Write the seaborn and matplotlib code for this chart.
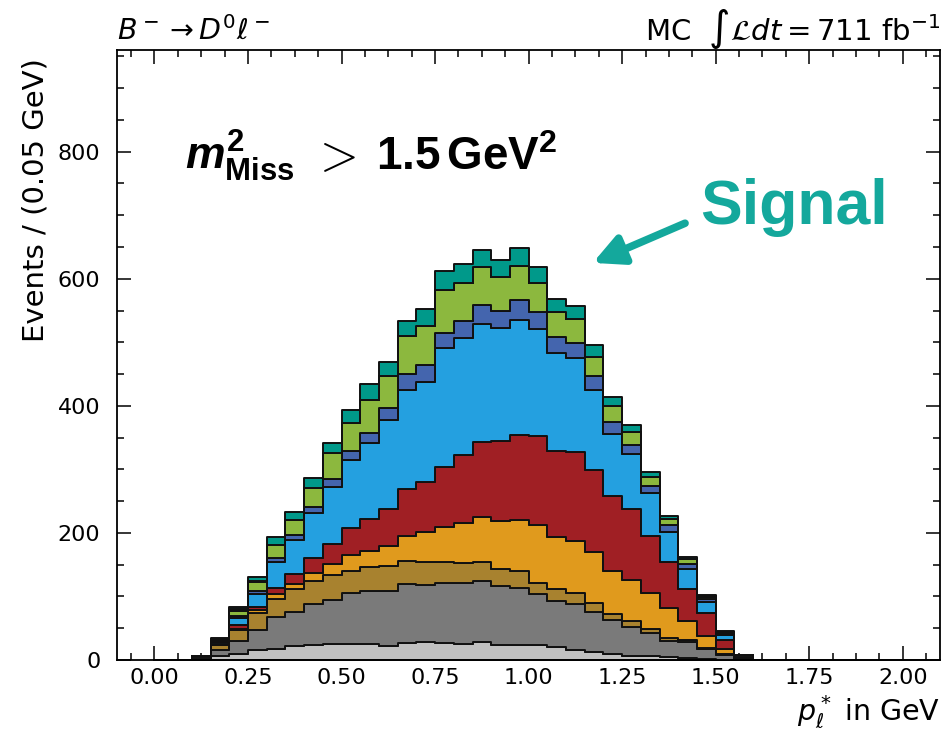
import numpy as np
import pandas as pd
import matplotlib
matplotlib.use("Agg")
import matplotlib.pyplot as plt
import seaborn as sns
from matplotlib.ticker import MultipleLocator, AutoMinorLocator

# ---- data (events per 0.05 GeV bin) ----
bin_low = [0.10, 0.15, 0.20, 0.25, 0.30, 0.35, 0.40, 0.45, 0.50, 0.55,
           0.60, 0.65, 0.70, 0.75, 0.80, 0.85, 0.90, 0.95, 1.00, 1.05,
           1.10, 1.15, 1.20, 1.25, 1.30, 1.35, 1.40, 1.45, 1.50, 1.55]
bin_width = 0.05
hist_edges = [round(0.05 * k, 2) for k in range(0, 43)]

lgray = [0, 6, 10, 15, 18, 22, 23, 25, 26, 25, 22, 27, 29, 27, 26, 28, 24, 23, 23, 21,
         16, 12, 10, 7, 6, 5, 3, 2, 0.5, 0]
gray = [0, 9.4, 19.5, 32.6, 50, 52.8, 64.4, 69.2, 79, 83.7, 86.7, 92.4, 89.8, 94, 95.1,
        95.6, 92.4, 89.8, 80.8, 72.3, 72.7, 63.9, 52.3, 45.3, 35.9, 25, 25, 14.7, 6.9, 0]
gold = [0, 7.6, 18.5, 26.4, 28.6, 37, 37, 39.1, 35.4, 37, 38.6, 35.9, 35.4, 32.7, 31.1,
        31.2, 26.4, 26.9, 17.4, 18.5, 16.8, 14.3, 10.5, 9, 7.3, 5.3, 3.7, 2.7, 2.6, 0]
orange = [0, 0.5, 1, 4.2, 6.9, 7.9, 13.2, 17.4, 24.8, 26.4, 32.7, 39.6, 48, 55.5, 63.9,
          69.7, 76.5, 81.3, 90.8, 81.8, 82, 80.2, 67.6, 65, 56, 46.5, 29, 18.5, 7.4, 0]
red = [0, 2.5, 5.4, 4.8, 10.5, 15.8, 22.2, 31.7, 42.3, 50.2, 58.1, 75, 78.7, 93.9, 106.7,
       118.2, 125.2, 133.1, 141, 134.7, 139.3, 129.4, 117.8, 111.9, 89.8, 72.3, 51.8, 35.9, 14.8, 3]
lblue = [0, 2.5, 12.1, 21.6, 40.7, 53.9, 71.8, 89.7, 107.2, 118.8, 139.9, 155.7, 157.3,
         188.5, 183.7, 185.9, 177.4, 181.1, 167.9, 154.7, 148.9, 125.6, 97.1, 86.1, 68.6,
         47.5, 30.1, 17.9, 7.9, 0]
dblue = [0, 0.5, 2.5, 3.7, 5.3, 6.9, 8.9, 12.2, 14.3, 16.9, 18.5, 23.8, 26.4, 23.8, 26.4,
         30.1, 27.4, 31.1, 26.4, 24.8, 22.7, 21.2, 18.5, 14.2, 10.6, 10.6, 7.9, 4.2, 1.6, 0]
green = [0, 1, 8.6, 14.8, 21, 23.7, 30.1, 42.2, 43.7, 51.7, 51.2, 60.7, 60.8, 67.1, 60.7,
         59.7, 52.8, 54.4, 46.4, 39.6, 38, 30.6, 25.3, 20.1, 13.2, 9, 7.9, 3.8, 1.3, 0]
other = [6, 3, 3.2, 1, 0, 0, 0, 0, 0, 0, 0, 0, 0, 0, 0, 0, 0, 0, 0, 0,
         0, 0, 0, 0, 0, 0, 0, 0.5, 1.5, 5]
signal = [0, 1, 2.6, 6.5, 12.2, 12.2, 16.4, 15.3, 21.2, 24.8, 21.7, 23.8, 27.4, 29, 29.1,
          27.4, 28, 28, 24.9, 21.1, 20.1, 17.9, 14.3, 11.6, 9, 5.3, 4.2, 2.1, 1.9, 0]

# top of stack first
components = ["Signal", "Other", "C7", "C6", "C5", "C4", "C3", "C2", "C1", "C0"]
series = [signal, other, green, dblue, lblue, red, orange, gold, gray, lgray]
colors = ["#00998a", "#141414", "#8cb83e", "#4465ae", "#24a0e0", "#a01f24",
          "#e09a1d", "#a8822f", "#7a7a7a", "#c0c0c0"]

rows = []
for name, vals in zip(components, series):
    for lo, v in zip(bin_low, vals):
        rows.append({"x": lo + bin_width / 2, "w": v, "comp": name})
df = pd.DataFrame(rows)

sns.set_style("ticks")
plt.rcParams["font.family"] = ["DejaVu Sans"]
plt.rcParams["text.color"] = "black"
plt.rcParams["axes.labelcolor"] = "black"
plt.rcParams["axes.edgecolor"] = "black"
plt.rcParams["xtick.color"] = "black"
plt.rcParams["ytick.color"] = "black"
plt.rcParams["mathtext.fontset"] = "custom"
plt.rcParams["mathtext.rm"] = "Liberation Sans:bold"
plt.rcParams["mathtext.bf"] = "Liberation Sans:bold"
plt.rcParams["mathtext.it"] = "Liberation Sans:bold:italic"

fig = plt.figure(figsize=(9.44, 7.35), dpi=100)
ax = fig.add_axes([0.124, 0.102, 0.872, 0.830])

sns.histplot(data=df, x="x", weights="w", hue="comp", hue_order=components,
             multiple="stack", bins=hist_edges, element="step",
             palette=dict(zip(components, colors)), alpha=1.0,
             edgecolor="#111111", linewidth=1.4, legend=False, ax=ax)

ax.set_xlim(-0.1, 2.1)
ax.set_ylim(0, 960)
ax.xaxis.set_major_locator(MultipleLocator(0.25))
ax.xaxis.set_minor_locator(AutoMinorLocator(4))
ax.yaxis.set_major_locator(MultipleLocator(200))
ax.yaxis.set_minor_locator(AutoMinorLocator(4))
ax.tick_params(which="both", direction="in", top=True, right=True, labelsize=16,
               colors="black")
ax.tick_params(which="major", length=10, width=1.1)
ax.tick_params(which="minor", length=5, width=1.1)
ax.tick_params(axis="y", which="major", pad=12)
ax.tick_params(axis="x", which="major", pad=6)
for s in ax.spines.values():
    s.set_linewidth(1.3)
    s.set_color("black")

ax.set_ylabel("Events / (0.05 GeV)", fontsize=21, loc="top")
ax.yaxis.set_label_coords(-0.082, 0.987)
ax.set_xlabel(r"$p_\ell^*$ in GeV", fontsize=20.5, loc="right",
              math_fontfamily="dejavusans")

ax.text(0.0, 1.0164, r"$B^- \rightarrow D^0 \ell^-$", transform=ax.transAxes,
        ha="left", va="baseline", fontsize=20.5, math_fontfamily="dejavusans")
ax.text(1.0, 1.0164, r"MC  $\int\mathcal{L}dt = 711$ fb$^{-1}$", transform=ax.transAxes,
        ha="right", va="baseline", fontsize=21, math_fontfamily="dejavusans")

# cut annotation, three pieces
ax.text(0.083, 0.803, r"$m^{2}_{\mathrm{Miss}}$", transform=ax.transAxes,
        ha="left", va="baseline", fontsize=32, math_fontfamily="custom")
ax.text(0.236, 0.803, r"$>$", transform=ax.transAxes,
        ha="left", va="baseline", fontsize=36, math_fontfamily="cm")
ax.text(0.314, 0.803, r"$\mathrm{1.5\,GeV^{2}}$", transform=ax.transAxes,
        ha="left", va="baseline", fontsize=33, math_fontfamily="custom")

teal = "#14a89c"
ax.text(0.708, 0.715, "Signal", transform=ax.transAxes, ha="left", va="baseline",
        fontsize=45, fontweight="bold", color=teal, family="Liberation Sans")
ax.annotate("", xy=(0.578, 0.651), xytext=(0.69, 0.716), xycoords="axes fraction",
            textcoords="axes fraction",
            arrowprops=dict(arrowstyle="-|>", color=teal, lw=5.5, mutation_scale=45,
                            shrinkA=0, shrinkB=0))

fig.savefig("out.png", dpi=100)
